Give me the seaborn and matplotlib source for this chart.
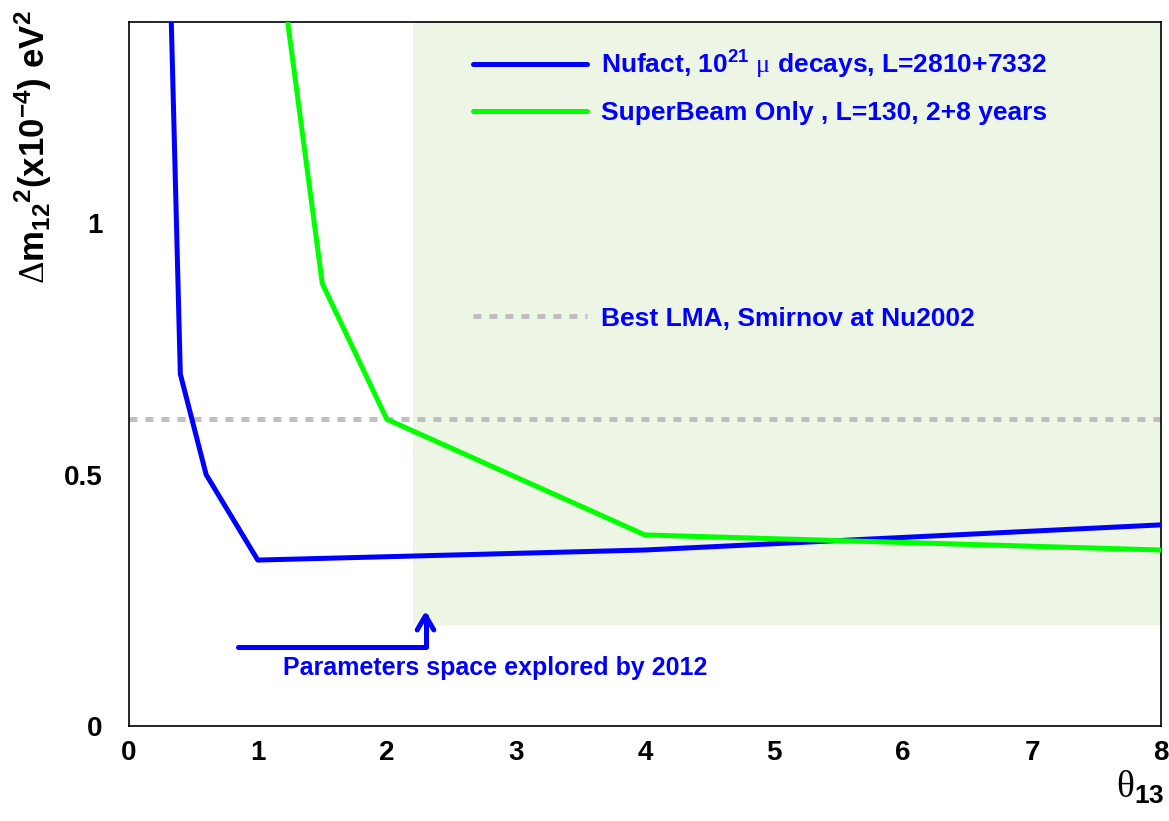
import numpy as np
import pandas as pd
import matplotlib
matplotlib.use("Agg")
import matplotlib.pyplot as plt
from matplotlib.lines import Line2D
from matplotlib.ticker import MultipleLocator
import seaborn as sns

# ---- data ----
nufact_theta = [0.3, 0.4, 0.6, 1.0, 4.0, 8.0]
nufact_dm = [1.70, 0.70, 0.50, 0.33, 0.35, 0.40]
sb_theta = [1.0, 1.5, 2.0, 4.0, 8.0]
sb_dm = [1.85, 0.88, 0.61, 0.38, 0.35]
best_lma = 0.61
region_x = [2.2, 8.0]
region_y = [0.2, 1.4]
arrow_start = (0.845, 0.157)
arrow_end = (2.30, 0.229)
labels = ["Nufact, 10$^{21}$ $\\mathsf{\\mu}$ decays, L=2810+7332",
          "SuperBeam Only , L=130, 2+8 years",
          "Best LMA, Smirnov at Nu2002"]
region_text = "Parameters space explored by 2012"

sns.set_theme(style="white")
plt.rcParams['font.family'] = ['Liberation Sans', 'DejaVu Sans']
plt.rcParams['font.weight'] = 'bold'
plt.rcParams['mathtext.fontset'] = 'custom'
plt.rcParams['mathtext.rm'] = 'Liberation Sans:bold'
plt.rcParams['mathtext.it'] = 'Liberation Sans:bold'
plt.rcParams['mathtext.bf'] = 'Liberation Sans:bold'
plt.rcParams['mathtext.sf'] = 'Liberation Serif:weight=normal'

fig = plt.figure(figsize=(11.69, 8.21), dpi=100)
ax = fig.add_axes([0.1101, 0.1157, 0.9932 - 0.1101, 0.9732 - 0.1157])

# shaded region
ax.fill_between(region_x, region_y[0], region_y[1], color='#edf5e4', lw=0, zorder=0)

df_nu = pd.DataFrame({'theta': nufact_theta, 'dm': nufact_dm})
df_sb = pd.DataFrame({'theta': sb_theta, 'dm': sb_dm})
sns.lineplot(data=df_nu, x='theta', y='dm', ax=ax, color='#0000ff', lw=3.6,
             estimator=None, sort=False, zorder=3)
sns.lineplot(data=df_sb, x='theta', y='dm', ax=ax, color='#00ff00', lw=3.6,
             estimator=None, sort=False, zorder=3)
ax.axhline(best_lma, color='#c0c0c0', lw=3.6, dashes=(1.6, 1.6), zorder=2)

ax.set_xlim(0, 8)
ax.set_ylim(0, 1.4)
ax.xaxis.set_major_locator(MultipleLocator(1))
ax.xaxis.set_minor_locator(MultipleLocator(0.2))
ax.yaxis.set_major_locator(MultipleLocator(0.5))
ax.yaxis.set_minor_locator(MultipleLocator(0.1))
ax.yaxis.set_major_formatter(matplotlib.ticker.FuncFormatter(lambda v, p: ('%g' % v)))
ax.tick_params(which='both', direction='in', top=False, right=False, color='black',
               labelcolor='black')
ax.tick_params(which='major', length=16.5, width=0.8, labelsize=20)
ax.tick_params(which='minor', length=8.3, width=0.8)
ax.tick_params(axis='x', which='major', pad=10)
ax.tick_params(axis='y', which='major', pad=19)
for s in ax.spines.values():
    s.set_color('black')
    s.set_linewidth(1.2)
    s.set_visible(True)

ax.set_ylabel("$\\mathsf{\\Delta}$m$_{12}$$^{2}$(x10$^{-4}$) eV$^{2}$", fontsize=25,
              fontweight='bold', loc='top', color='black')
ax.yaxis.set_label_coords(-0.072, 1.017)
ax.set_xlabel("$\\mathsf{\\theta}_{13}$", fontsize=27, loc='right', color='black')
ax.xaxis.set_label_coords(1.003, -0.06)

# legends
fp = {'family': 'Liberation Sans', 'weight': 'bold', 'size': 19}
h1 = Line2D([], [], color='#0000ff', lw=3.6)
h2 = Line2D([], [], color='#00ff00', lw=3.6)
h3 = Line2D([], [], color='#c0c0c0', lw=3.6, dashes=(1.6, 1.6))
leg1 = ax.legend([h1, h2], labels[:2], loc='center left', bbox_to_anchor=(2.67 / 8, 1.271 / 1.4),
                 frameon=False, prop=fp,
                 labelcolor='#0000ff', handlelength=4.3, handletextpad=0.55, labelspacing=0.75,
                 borderpad=0, borderaxespad=0)
ax.add_artist(leg1)
ax.legend([h3], labels[2:], loc='center left', bbox_to_anchor=(2.67 / 8, 0.81 / 1.4),
          frameon=False, prop=fp,
          labelcolor='#0000ff', handlelength=4.3, handletextpad=0.55,
          borderpad=0, borderaxespad=0)

# arrow + annotation
ax.annotate("", xy=arrow_end, xytext=arrow_start,
            arrowprops=dict(arrowstyle='->,head_length=0.85,head_width=0.5', color='#0000ff', lw=3.6,
                            shrinkA=0, shrinkB=0,
                            connectionstyle='angle,angleA=0,angleB=90,rad=0'), zorder=4)
ax.text(2.84, 0.115, region_text, color='#0000ff', fontsize=18, fontweight='bold',
        ha='center', va='center')

fig.savefig('out.png', dpi=100)
